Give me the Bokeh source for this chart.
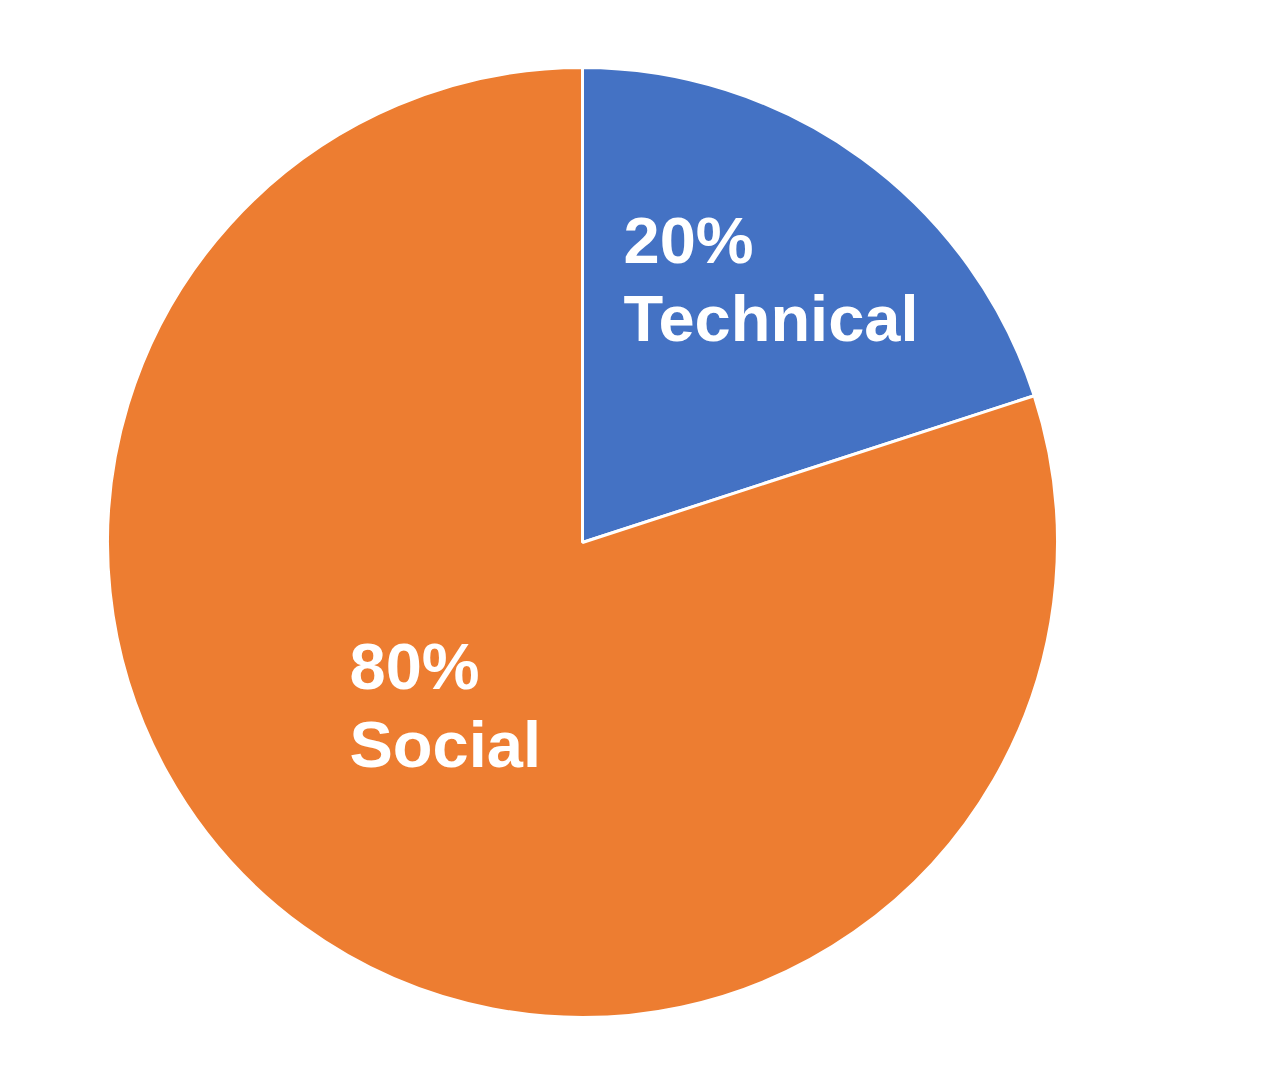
import math
from bokeh.plotting import figure
from bokeh.models import ColumnDataSource
from bokeh.core.properties import value
from bokeh.embed import file_html
from bokeh.resources import INLINE

# Data
categories = ["Technical", "Social"]
shares = [20, 80]
pct_labels = ["20%", "80%"]
colors = ["#4472C4", "#ED7D31"]

# Angles (clockwise from 12 o'clock)
total = sum(shares)
starts, ends = [], []
acc = 0.0
for s in shares:
    a0 = math.pi / 2 - 2 * math.pi * acc / total
    acc += s
    a1 = math.pi / 2 - 2 * math.pi * acc / total
    starts.append(a0)
    ends.append(a1)

src = ColumnDataSource(dict(cat=categories, share=shares, start=starts, end=ends, color=colors))

W, H = 1272, 1064
p = figure(width=W, height=H, output_backend="svg", toolbar_location=None,
           x_range=(-582, 690), y_range=(-522, 542), min_border=0)
p.axis.visible = False
p.grid.visible = False
p.outline_line_color = None
p.background_fill_color = "white"
p.border_fill_color = "white"

R = 475
p.wedge(x=0, y=0, radius=R, start_angle="start", end_angle="end", direction="clock",
        fill_color="color", line_color="white", line_width=3, source=src)

# Label layout (left edge, baselines)
label_x = [41, -233]
label_y1 = [302, -124]
label_y2 = [224, -202]
lab = ColumnDataSource(dict(x=label_x, y1=label_y1, y2=label_y2, pct=pct_labels, cat=categories))
for col, ycol in (("pct", "y1"), ("cat", "y2")):
    p.text(x="x", y=ycol, text=col, source=lab, text_color="white",
           text_font=value("Liberation Sans"), text_font_style="bold",
           text_font_size="65px", text_align="left", text_baseline="alphabetic")

open("out.html", "w").write(file_html(p, INLINE))
